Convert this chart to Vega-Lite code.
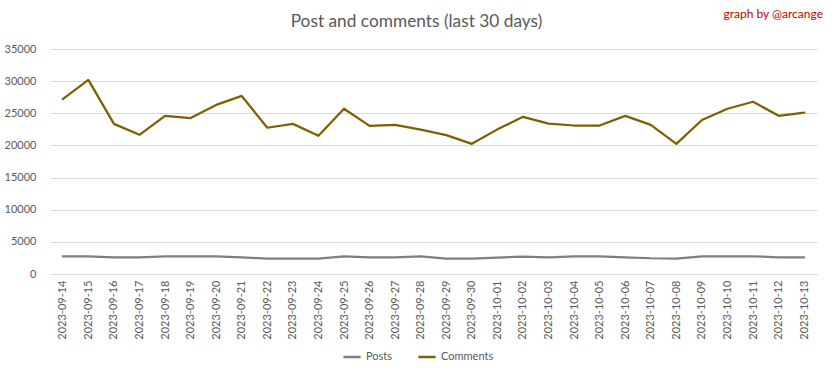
{
  "$schema": "https://vega.github.io/schema/vega-lite/v6.json",
  "width": 767,
  "height": 225,
  "autosize": {"type": "none"},
  "padding": {"left": 50, "top": 49, "right": 15, "bottom": 104},
  "background": "white",
  "title": {"text": "graph by @arcange", "anchor": "end", "color": "#c00000", "fontSize": 12, "font": "Lato", "fontWeight": "normal", "offset": -9, "dx": 6},
  "config": {
    "view": {"stroke": null},
    "font": "Lato",
    "axis": {"labelFont": "Lato", "labelColor": "#595959", "labelFontSize": 11, "gridColor": "#d9d9d9", "domainColor": "#d9d9d9", "ticks": false}
  },
  "resolve": {"axis": {"x": "independent"}},
  "data": {"values": [
    {"date": "2023-09-14", "series": "Posts", "value": 2750},
    {"date": "2023-09-15", "series": "Posts", "value": 2750},
    {"date": "2023-09-16", "series": "Posts", "value": 2600},
    {"date": "2023-09-17", "series": "Posts", "value": 2600},
    {"date": "2023-09-18", "series": "Posts", "value": 2750},
    {"date": "2023-09-19", "series": "Posts", "value": 2750},
    {"date": "2023-09-20", "series": "Posts", "value": 2750},
    {"date": "2023-09-21", "series": "Posts", "value": 2600},
    {"date": "2023-09-22", "series": "Posts", "value": 2400},
    {"date": "2023-09-23", "series": "Posts", "value": 2400},
    {"date": "2023-09-24", "series": "Posts", "value": 2400},
    {"date": "2023-09-25", "series": "Posts", "value": 2750},
    {"date": "2023-09-26", "series": "Posts", "value": 2600},
    {"date": "2023-09-27", "series": "Posts", "value": 2600},
    {"date": "2023-09-28", "series": "Posts", "value": 2750},
    {"date": "2023-09-29", "series": "Posts", "value": 2400},
    {"date": "2023-09-30", "series": "Posts", "value": 2400},
    {"date": "2023-10-01", "series": "Posts", "value": 2550},
    {"date": "2023-10-02", "series": "Posts", "value": 2700},
    {"date": "2023-10-03", "series": "Posts", "value": 2600},
    {"date": "2023-10-04", "series": "Posts", "value": 2750},
    {"date": "2023-10-05", "series": "Posts", "value": 2750},
    {"date": "2023-10-06", "series": "Posts", "value": 2600},
    {"date": "2023-10-07", "series": "Posts", "value": 2450},
    {"date": "2023-10-08", "series": "Posts", "value": 2400},
    {"date": "2023-10-09", "series": "Posts", "value": 2750},
    {"date": "2023-10-10", "series": "Posts", "value": 2750},
    {"date": "2023-10-11", "series": "Posts", "value": 2750},
    {"date": "2023-10-12", "series": "Posts", "value": 2600},
    {"date": "2023-10-13", "series": "Posts", "value": 2600},
    {"date": "2023-09-14", "series": "Comments", "value": 27200},
    {"date": "2023-09-15", "series": "Comments", "value": 30200},
    {"date": "2023-09-16", "series": "Comments", "value": 23350},
    {"date": "2023-09-17", "series": "Comments", "value": 21650},
    {"date": "2023-09-18", "series": "Comments", "value": 24600},
    {"date": "2023-09-19", "series": "Comments", "value": 24250},
    {"date": "2023-09-20", "series": "Comments", "value": 26300},
    {"date": "2023-09-21", "series": "Comments", "value": 27700},
    {"date": "2023-09-22", "series": "Comments", "value": 22750},
    {"date": "2023-09-23", "series": "Comments", "value": 23350},
    {"date": "2023-09-24", "series": "Comments", "value": 21500},
    {"date": "2023-09-25", "series": "Comments", "value": 25700},
    {"date": "2023-09-26", "series": "Comments", "value": 23050},
    {"date": "2023-09-27", "series": "Comments", "value": 23200},
    {"date": "2023-09-28", "series": "Comments", "value": 22450},
    {"date": "2023-09-29", "series": "Comments", "value": 21600},
    {"date": "2023-09-30", "series": "Comments", "value": 20250},
    {"date": "2023-10-01", "series": "Comments", "value": 22500},
    {"date": "2023-10-02", "series": "Comments", "value": 24450},
    {"date": "2023-10-03", "series": "Comments", "value": 23400},
    {"date": "2023-10-04", "series": "Comments", "value": 23100},
    {"date": "2023-10-05", "series": "Comments", "value": 23100},
    {"date": "2023-10-06", "series": "Comments", "value": 24600},
    {"date": "2023-10-07", "series": "Comments", "value": 23200},
    {"date": "2023-10-08", "series": "Comments", "value": 20250},
    {"date": "2023-10-09", "series": "Comments", "value": 23950},
    {"date": "2023-10-10", "series": "Comments", "value": 25700},
    {"date": "2023-10-11", "series": "Comments", "value": 26800},
    {"date": "2023-10-12", "series": "Comments", "value": 24600},
    {"date": "2023-10-13", "series": "Comments", "value": 25100}
  ]},
  "layer": [
    {
      "mark": {"type": "line", "strokeWidth": 2.25, "strokeJoin": "round", "strokeCap": "round"},
      "encoding": {
        "x": {"field": "date", "type": "ordinal", "scale": {"type": "point", "padding": 0.5}, "sort": null,
              "axis": {"orient": "bottom", "title": null, "labelAngle": -90, "labelPadding": 6, "grid": false, "domain": true, "labelOverlap": false}},
        "y": {"field": "value", "type": "quantitative", "scale": {"domain": [0, 35000], "nice": false},
              "axis": {"title": null, "values": [0, 5000, 10000, 15000, 20000, 25000, 30000, 35000], "format": "d", "domain": false, "labelPadding": 14, "grid": true, "labelOverlap": false}},
        "color": {"field": "series", "type": "nominal", "sort": ["Posts", "Comments"],
                  "scale": {"domain": ["Posts", "Comments"], "range": ["#7f7f7f", "#7f6000"]},
                  "legend": {"title": null, "orient": "none", "legendX": 292, "legendY": 298, "direction": "horizontal", "symbolType": "stroke", "symbolStrokeWidth": 2.5, "symbolSize": 300, "labelColor": "#595959", "labelFontSize": 11, "columnPadding": 20}}
      }
    },
    {
      "mark": {"type": "line", "opacity": 0},
      "encoding": {
        "x": {"field": "date", "type": "ordinal", "sort": null,
              "axis": {"orient": "top", "title": "Post and comments (last 30 days)", "titleFontSize": 17.3, "titleFontWeight": "normal", "titleColor": "#595959", "titleFont": "Lato", "titlePadding": 19, "titleX": 366, "labels": false, "domain": false, "grid": false, "ticks": false}},
        "y": {"field": "value", "type": "quantitative", "scale": {"domain": [0, 35000], "nice": false},
              "axis": {"title": null, "values": [0, 5000, 10000, 15000, 20000, 25000, 30000, 35000], "format": "d", "domain": false, "labelPadding": 14, "grid": true, "labelOverlap": false}},
        "detail": {"field": "series"}
      }
    }
  ]
}
